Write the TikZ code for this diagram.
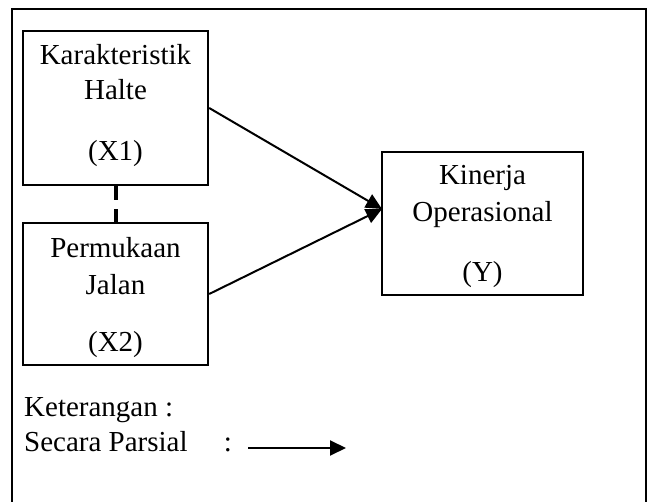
\documentclass[tikz,border=0pt]{standalone}
\usepackage{fontspec}
\setmainfont{Liberation Serif}
\usetikzlibrary{arrows.meta}
\begin{document}
\begin{tikzpicture}[x=1pt,y=-1pt,
  box/.style={draw=black,line width=2.4pt,inner sep=0pt,fill=none},
  txt/.style={anchor=base,inner sep=0pt,font=\fontsize{29}{34}\selectfont},
  ltxt/.style={anchor=base west,inner sep=0pt,font=\fontsize{29}{34}\selectfont},
  conn/.style={line width=2pt,-{Triangle[length=16pt,width=15pt]}},
  frame/.style={line width=2pt}]
\useasboundingbox (0,0) rectangle (653,502);
% outer frame (open at bottom)
\draw[frame] (12,502) -- (12,9) -- (646,9) -- (646,502);
% boxes
\node[box,minimum width=185pt,minimum height=154pt] (x1) at (115.5,108) {};
\node[box,minimum width=185pt,minimum height=142pt] (x2) at (115.5,294) {};
\node[box,minimum width=201pt,minimum height=143pt] (y) at (482.5,223.5) {};
% texts
\node[txt] (t11) at (115.5,65) {Karakteristik};
\node[txt] (t12) at (115.5,100) {Halte};
\node[txt] (t13) at (115.5,161) {(X1)};
\node[txt] (t21) at (115.5,258) {Permukaan};
\node[txt] (t22) at (115.5,295) {Jalan};
\node[txt] (t23) at (115.5,352) {(X2)};
\node[txt] (t31) at (482.5,185) {Kinerja};
\node[txt] (t32) at (482.5,222) {Operasional};
\node[txt] (t33) at (482.5,282) {(Y)};
% connectors
\coordinate (yin) at (382,209);
\draw[conn] (x1.east) -- (yin);
\draw[conn] (x2.east) -- (yin);
\draw[line width=4pt,dash pattern=on 14pt off 9pt] (x1.south) -- (x2.north);
% legend
\node[ltxt] (k1) at (24,416) {Keterangan :};
\node[ltxt] (k2) at (24,451) {Secara Parsial};
\node[txt] (k3) at (228,451) {:};
\coordinate (la) at (248,448);
\coordinate (lb) at (346,448);
\draw[conn] (la) -- (lb);
\end{tikzpicture}
\end{document}
